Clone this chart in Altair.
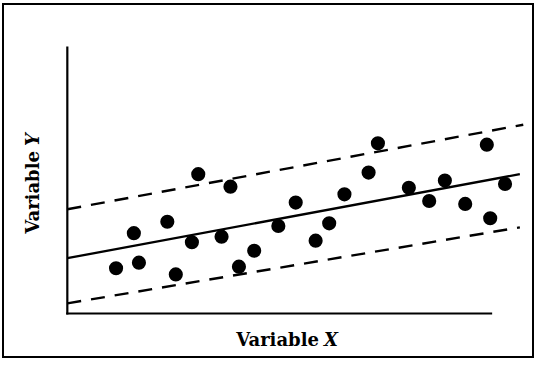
import altair as alt
import pandas as pd

# Scatter points (data units: axis spans 0..100 on both axes)
px = [11.5, 15.7, 16.9, 23.6, 25.6, 29.4, 30.9, 36.4, 38.5, 40.5, 44.1, 49.8, 53.9,
      58.6, 61.8, 65.4, 71.1, 73.3, 80.6, 85.4, 89.1, 93.9, 99.0, 99.8, 103.3]
py = [17.0, 30.2, 19.1, 34.5, 14.7, 26.8, 52.4, 28.9, 47.7, 17.6, 23.6, 32.9, 41.7,
      27.4, 33.9, 44.8, 53.0, 64.0, 47.3, 42.3, 50.0, 41.2, 63.5, 35.8, 48.7]

# Regression line and band lines (start/end)
line_names = ["fit", "upper", "lower"]
line_x1 = [0, 0, 0]
line_y1 = [20.8, 39.2, 3.8]
line_x2 = [106.8, 107.6, 106.8]
line_y2 = [52.4, 71.0, 32.4]

# Axis lines
axis_x1 = [0, 0]
axis_y1 = [0, 0]
axis_x2 = [100, 0]
axis_y2 = [0, 100]

pts = pd.DataFrame({"x": px, "y": py})
lines = pd.DataFrame({"name": line_names, "x": line_x1, "y": line_y1, "x2": line_x2, "y2": line_y2})
axes = pd.DataFrame({"x": axis_x1, "y": axis_y1, "x2": axis_x2, "y2": axis_y2})

xs = alt.Scale(domain=[-15.18, 109.9], nice=False, zero=False)
ys = alt.Scale(domain=[-16.37, 116.4], nice=False, zero=False)

X = alt.X("x:Q", scale=xs, axis=None)
Y = alt.Y("y:Q", scale=ys, axis=None)

axis_layer = alt.Chart(axes).mark_rule(color="black", strokeWidth=2.2, strokeCap="square").encode(
    x=X, y=Y, x2="x2:Q", y2="y2:Q")

solid = alt.Chart(lines[lines.name == "fit"]).mark_rule(color="black", strokeWidth=2.3).encode(
    x=X, y=Y, x2="x2:Q", y2="y2:Q")

dashed = alt.Chart(lines[lines.name != "fit"]).mark_rule(
    color="black", strokeWidth=2.4, strokeDash=[14, 10]).encode(
    x=X, y=Y, x2="x2:Q", y2="y2:Q")

dots = alt.Chart(pts).mark_point(filled=True, color="black", opacity=1, size=200, shape="circle").encode(
    x=X, y=Y)

font = "DejaVu Serif"
fs = 18
xl1 = alt.Chart(pd.DataFrame({"t": ["Variable"]})).mark_text(
    font=font, fontSize=fs, fontWeight="bold", align="right", baseline="alphabetic", color="black").encode(
    text="t:N", x=alt.value(316), y=alt.value(342))
xl2 = alt.Chart(pd.DataFrame({"t": ["X"]})).mark_text(
    font=font, fontSize=fs, fontWeight="bold", fontStyle="italic", align="left", baseline="alphabetic", color="black").encode(
    text="t:N", x=alt.value(321), y=alt.value(342))
yl1 = alt.Chart(pd.DataFrame({"t": ["Variable"]})).mark_text(
    font=font, fontSize=fs, fontWeight="bold", align="right", baseline="alphabetic", angle=270, color="black").encode(
    text="t:N", x=alt.value(36), y=alt.value(147))
yl2 = alt.Chart(pd.DataFrame({"t": ["Y"]})).mark_text(
    font=font, fontSize=fs, fontWeight="bold", fontStyle="italic", align="left", baseline="alphabetic", angle=270, color="black").encode(
    text="t:N", x=alt.value(36), y=alt.value(142))

chart = alt.layer(axis_layer, dashed, solid, dots, xl1, xl2, yl1, yl2).properties(
    width=530, height=353,
    padding={"left": 3, "top": 4, "right": 2, "bottom": 10},
    autosize=alt.AutoSizeParams(type="none"),
    background="white",
).configure_view(stroke="black", strokeWidth=2)

chart.save("out.html", embed_options={"renderer": "svg", "actions": False})
